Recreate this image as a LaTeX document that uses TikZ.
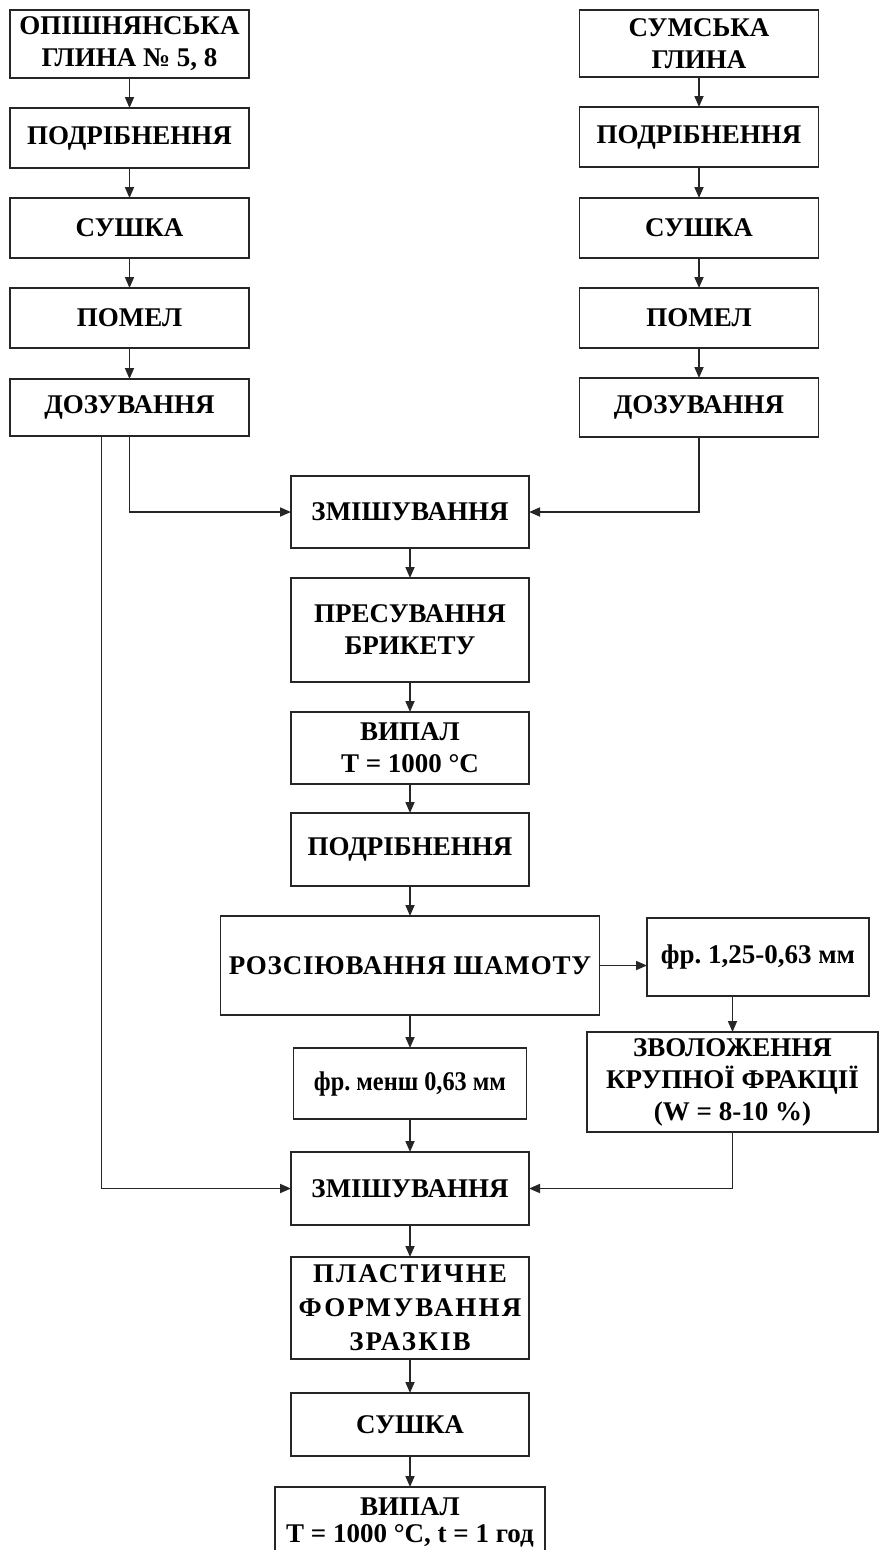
\documentclass[tikz,border=0pt]{standalone}
\usepackage{fontspec}
\setmainfont{Liberation Serif}
\usetikzlibrary{arrows.meta}
\usetikzlibrary{positioning}
\frenchspacing

\begin{document}
\begin{tikzpicture}[x=1pt, y=-1pt, node distance=30pt,
    stage/.style={draw=black!85, line width=1.7pt, align=center, inner sep=1pt, outer sep=0pt,
      font=\fontsize{27}{32}\selectfont\bfseries},
    side/.style={stage, minimum width=239pt},
    mid/.style={stage, minimum width=238pt},
    flow/.style={draw=black!85, line width=1.7pt, -{Triangle[length=11pt,width=9pt]}}]
  \useasboundingbox (0,0) rectangle (880,1550);

  % left clay
  \node[side, minimum height=68pt] (l1) at (129.5,44) {ОПІШНЯНСЬКА\\ГЛИНА № 5, 8};
  \node[side, minimum height=60pt, below=of l1] (l2) {ПОДРІБНЕННЯ};
  \node[side, minimum height=60pt, below=of l2] (l3) {СУШКА};
  \node[side, minimum height=60pt, below=of l3] (l4) {ПОМЕЛ};
  \node[side, minimum height=57pt, below=31pt of l4] (l5) {ДОЗУВАННЯ};

  % right clay
  \node[side, minimum height=67pt] (r1) at (699,43.5) {СУМСЬКА\\ГЛИНА};
  \node[side, minimum height=60pt, below=of r1] (r2) {ПОДРІБНЕННЯ};
  \node[side, minimum height=60pt, below=31pt of r2] (r3) {СУШКА};
  \node[side, minimum height=60pt, below=of r3] (r4) {ПОМЕЛ};
  \node[side, minimum height=59pt, below=of r4] (r5) {ДОЗУВАННЯ};

  % main line
  \node[mid, minimum height=72pt] (m1) at (410,512) {ЗМІШУВАННЯ};
  \node[mid, minimum height=104pt, below=of m1] (m2) {ПРЕСУВАННЯ\\БРИКЕТУ};
  \node[mid, minimum height=72pt, below=of m2] (m3) {ВИПАЛ\\T = 1000 °C};
  \node[mid, minimum height=73pt, below=29pt of m3] (m4) {ПОДРІБНЕННЯ};
  \node[stage, minimum width=379pt, minimum height=99pt, below=of m4,
    font=\fontsize{27}{32}\selectfont\bfseries\addfontfeature{LetterSpace=3}] (m5) {РОЗСІЮВАННЯ ШАМОТУ};
  \node[stage, minimum width=233pt, minimum height=71pt, below=33pt of m5,
    font=\fontsize{27}{32}\selectfont\bfseries\addfontfeature{FakeStretch=0.9}] (m6) {фр. менш 0,63 мм};
  \node[mid, minimum height=73pt, below=33pt of m6] (m7) {ЗМІШУВАННЯ};
  \node[mid, minimum height=102pt, below=32pt of m7,
    font=\fontsize{27}{34}\selectfont\bfseries\addfontfeature{LetterSpace=8}] (m8) {ПЛАСТИЧНЕ\\ФОРМУВАННЯ\\ЗРАЗКІВ};
  \node[mid, minimum height=63pt, below=34pt of m8] (m9) {СУШКА};
  \node[stage, minimum width=270pt, inner ysep=11pt, text depth=20pt,
    font=\fontsize{27}{27}\selectfont\bfseries, below=31pt of m9] (m10) {ВИПАЛ\\T = 1000 °C, t = 1 год};

  % coarse fraction
  \node[stage, minimum width=222pt, minimum height=78pt] (f1) at (758,957) {фр. 1,25-0,63 мм};
  \node[stage, minimum width=291pt, minimum height=100pt] (f2) at (732.5,1082) {ЗВОЛОЖЕННЯ\\КРУПНОЇ ФРАКЦІЇ\\(W = 8-10 \%)};

  \draw[flow] (l1) -- (l2);
  \draw[flow] (l2) -- (l3);
  \draw[flow] (l3) -- (l4);
  \draw[flow] (l4) -- (l5);
  \draw[flow] (r1) -- (r2);
  \draw[flow] (r2) -- (r3);
  \draw[flow] (r3) -- (r4);
  \draw[flow] (r4) -- (r5);

  \draw[flow] (l5.south) |- (m1.west);
  \draw[flow] (r5.south) |- (m1.east);
  \draw[flow] ([xshift=-28pt]l5.south) |- (m7.west);

  \draw[flow] (m1) -- (m2);
  \draw[flow] (m2) -- (m3);
  \draw[flow] (m3) -- (m4);
  \draw[flow] (m4) -- (m5);
  \draw[flow] (m5) -- (m6);
  \draw[flow] (m6) -- (m7);
  \draw[flow] (m7) -- (m8);
  \draw[flow] (m8) -- (m9);
  \draw[flow] (m9) -- (m10);

  \draw[flow] (m5.east) -- (m5.east -| f1.west);
  \draw[flow] (f1.south -| f2.north) -- (f2.north);
  \draw[flow] (f2.south) |- (m7.east);
\end{tikzpicture}
\end{document}
